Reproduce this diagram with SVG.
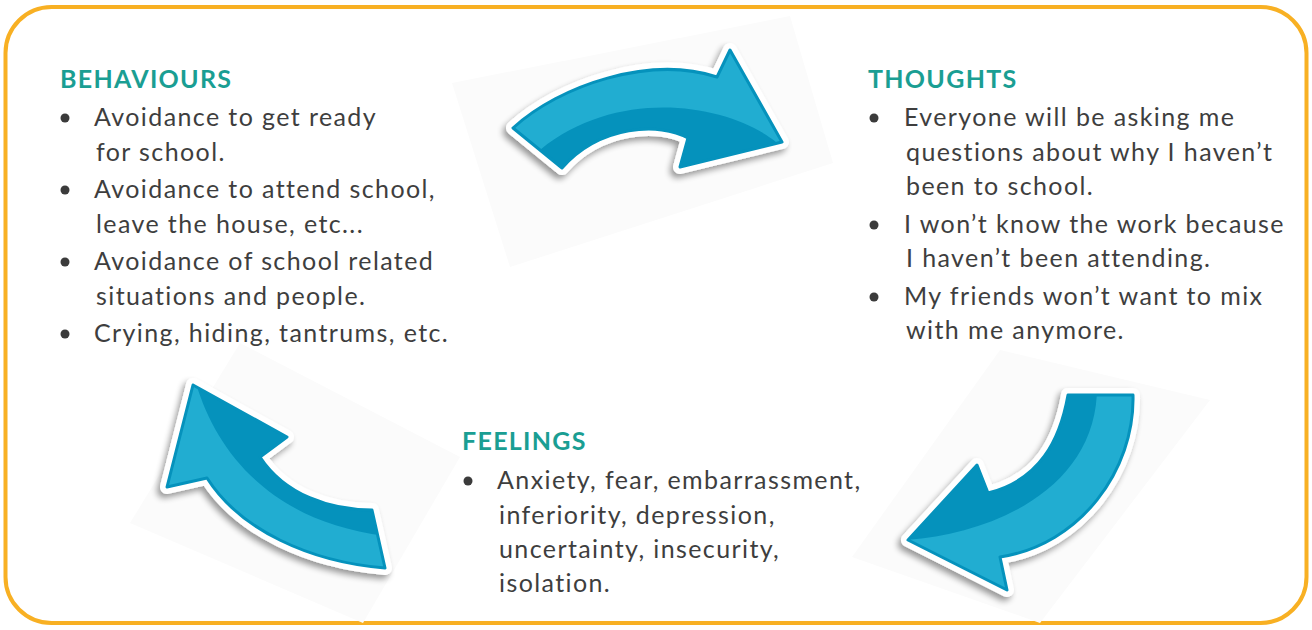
<svg xmlns="http://www.w3.org/2000/svg" width="1312" height="630" viewBox="0 0 1312 630">
<defs>
<style>
.h{font-family:Lato,"Liberation Sans",sans-serif;font-weight:bold;font-size:25px;fill:#1a9e93;letter-spacing:1.3px}
.t{font-family:Lato,"Liberation Sans",sans-serif;font-size:25px;fill:#3e3e3e;letter-spacing:1.4px}
.b{fill:#3b3b3b}
.bg{fill:#fbfbfb}
.outl{fill:#ffffff;stroke:#ffffff;stroke-width:14;stroke-linejoin:round}
.dark{fill:#0592bc}
.light{fill:#21add1}
.edge{fill:none;stroke:#0592bc;stroke-width:3;stroke-linejoin:round}
</style>
<filter id="sh" x="-20%" y="-20%" width="140%" height="140%">
<feGaussianBlur in="SourceAlpha" stdDeviation="3"/>
<feOffset dx="-3" dy="4" result="o"/>
<feComponentTransfer><feFuncA type="linear" slope="0.4"/></feComponentTransfer>
<feMerge><feMergeNode/><feMergeNode in="SourceGraphic"/></feMerge>
</filter>
<path id="a1" d="M513,128 C560,85 650,55 717,77 L730,50 L782,142 L680,167 L688,138 C660,122 600,125 562,168 Z"/>
<path id="a2" d="M1068,395 L1133,395 C1135,470 1080,545 1000,557 L1007,590 L908,540 L977,465 L988,493 C1040,480 1060,440 1068,395 Z"/>
<path id="a3" d="M193,385 L287,437 L260,457 C285,495 330,510 372,510 L385,568 C310,562 240,530 207,478 L167,487 Z"/>
<clipPath id="c1"><use href="#a1"/></clipPath>
<clipPath id="c2"><use href="#a2"/></clipPath>
<clipPath id="c3"><use href="#a3"/></clipPath>
</defs>
<rect x="0" y="0" width="1312" height="630" fill="#ffffff"/>
<rect x="5.5" y="7" width="1301" height="616" rx="46" ry="46" fill="#ffffff" stroke="#f8b023" stroke-width="4"/>

<g id="connectors">
<g id="arrow-behaviours-thoughts">
<polygon class="bg" points="452,83 790,16 833,163 510,267"/>
<use href="#a1" class="outl" filter="url(#sh)"/>
<use href="#a1" class="dark"/>
<path class="light" clip-path="url(#c1)" d="M500,120 C550,70 660,40 720,70 L730,40 L800,145 L776,142 C730,105 620,85 540,150 Z"/>
<use href="#a1" class="edge"/>
</g>
<g id="arrow-thoughts-feelings">
<polygon class="bg" points="852,557 1000,350 1210,400 1040,623"/>
<use href="#a2" class="outl" filter="url(#sh)"/>
<use href="#a2" class="dark"/>
<path class="light" clip-path="url(#c2)" d="M1097,390 L1145,390 L1145,600 L900,600 L905,540 C990,535 1095,490 1097,390 Z"/>
<use href="#a2" class="edge"/>
</g>
<g id="arrow-feelings-behaviours">
<polygon class="bg" points="240,343 460,457 363,623 130,523"/>
<use href="#a3" class="outl" filter="url(#sh)"/>
<use href="#a3" class="dark"/>
<path class="light" clip-path="url(#c3)" d="M195,380 C215,450 270,525 395,537 L400,580 L150,580 L150,380 Z"/>
<use href="#a3" class="edge"/>
</g>
</g>

<g id="behaviours">
<text class="h" x="60" y="88">BEHAVIOURS</text>
<circle class="b" cx="65" cy="118" r="4.5"/>
<text class="t" x="94" y="126">Avoidance to get ready</text>
<text class="t" x="96" y="161">for school.</text>
<circle class="b" cx="65" cy="190" r="4.5"/>
<text class="t" x="94" y="198">Avoidance to attend school,</text>
<text class="t" x="96" y="233">leave the house, etc...</text>
<circle class="b" cx="65" cy="262" r="4.5"/>
<text class="t" x="94" y="270">Avoidance of school related</text>
<text class="t" x="96" y="305">situations and people.</text>
<circle class="b" cx="65" cy="334" r="4.5"/>
<text class="t" x="94" y="342">Crying, hiding, tantrums, etc.</text>
</g>

<g id="thoughts">
<text class="h" x="868" y="88">THOUGHTS</text>
<circle class="b" cx="874" cy="118" r="4.5"/>
<text class="t" x="904" y="126">Everyone will be asking me</text>
<text class="t" x="906" y="161">questions about why I haven’t</text>
<text class="t" x="906" y="195">been to school.</text>
<circle class="b" cx="874" cy="225" r="4.5"/>
<text class="t" x="904" y="233">I won’t know the work because</text>
<text class="t" x="906" y="267">I haven’t been attending.</text>
<circle class="b" cx="874" cy="297" r="4.5"/>
<text class="t" x="904" y="305">My friends won’t want to mix</text>
<text class="t" x="906" y="339">with me anymore.</text>
</g>

<g id="feelings">
<text class="h" x="462" y="450">FEELINGS</text>
<circle class="b" cx="468" cy="481" r="4.5"/>
<text class="t" x="497" y="489">Anxiety, fear, embarrassment,</text>
<text class="t" x="499" y="524">inferiority, depression,</text>
<text class="t" x="499" y="558">uncertainty, insecurity,</text>
<text class="t" x="499" y="592">isolation.</text>
</g>
</svg>
